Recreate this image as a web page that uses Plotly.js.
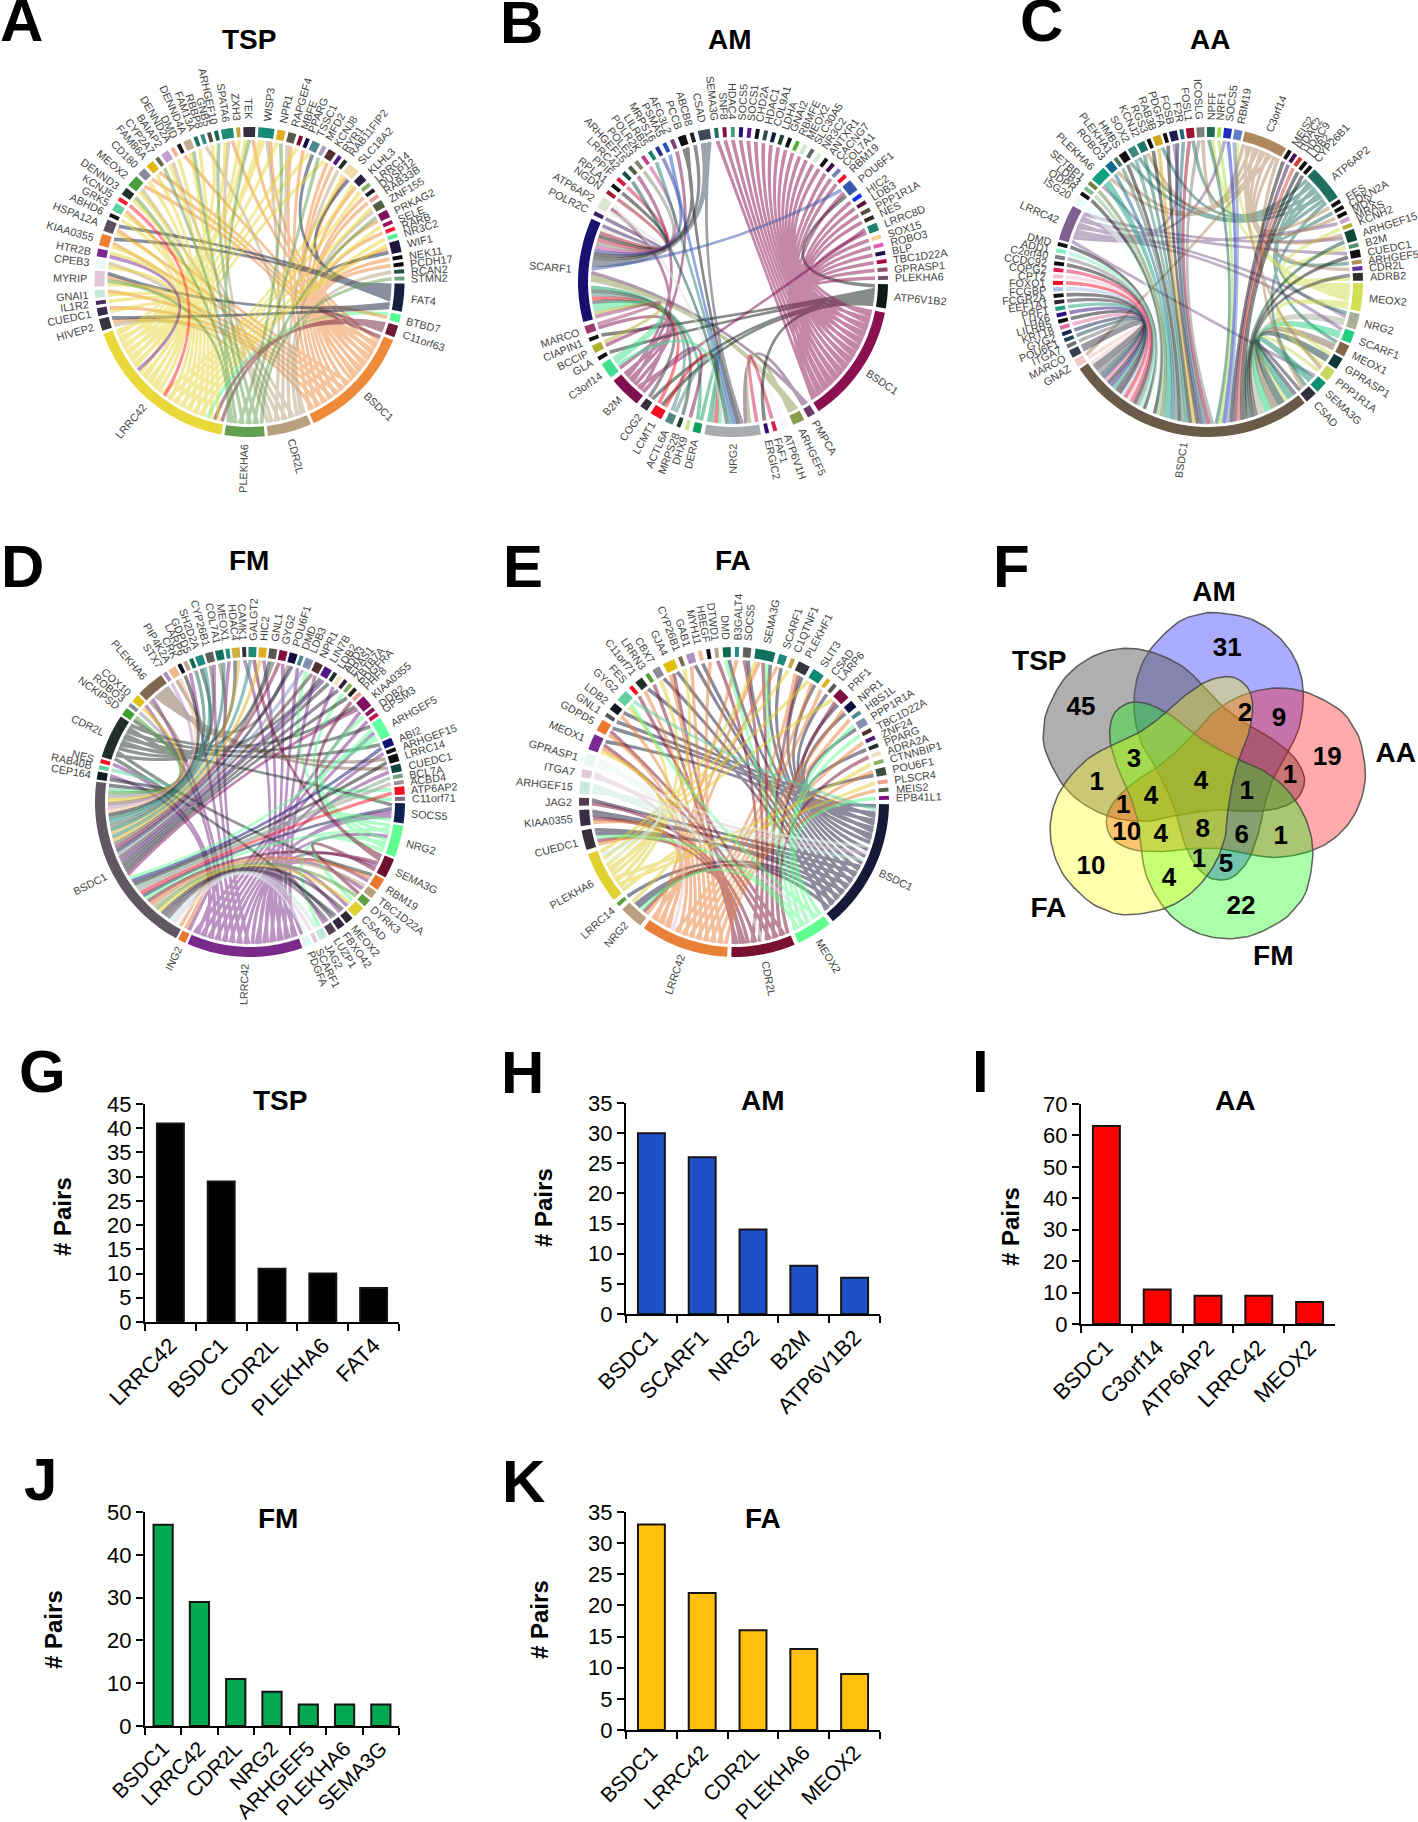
<!DOCTYPE html>
<html><head><meta charset="utf-8">
<script src="https://cdn.plot.ly/plotly-3.0.1.min.js"></script>
<style>html,body{margin:0;padding:0;background:#fff}</style></head>
<body><div id="chart" style="width:1418px;height:1822px"></div>
<script>
// ---------- Chord panels: genes clockwise from east, sector colours, partner codes ----------
// A partner code is one letter per pair. Upper case: ribbon takes the partner hub's colour; lower case: the gene's own colour.
const tspHubs={B:'BSDC1',C:'CDR2L',P:'PLEKHA6',L:'LRRC42',F:'FAT4'};
const tspGenes=['FAT4','BTBD7','C11orf63','BSDC1','CDR2L','PLEKHA6','LRRC42','HIVEP2','CUEDC1','IL1R2','GNAI1','MYRIP','CPEB3','HTR2B','KIAA0355','HSPA12A','ABHD6','GRK5','KCNJ5','DENND3','MEOX2','CD180','FAM86A','CYP2A7','BAIAP2','DENND2A','DMD','DENND4A','FAM13A','RBBP8','GNB5','ARHGEF10','SPATA6','ZXH3','TEK','WISP3','NPR1','RAPGEF4','MBFE','PPARG','TSSC1','MFD2','KCNJ8','RYR1','RAB11FIP2','SLC18A2','KLHL3','LRRC14','DUSP12','RAB33B','ZNF155','PRKAG2','SELE','RARB','NR3C2','WIF1','NEK11','PCDH17','RCAN2','STMN2'];
const tspColors=['#142040','#50ff90','#701a3a','#ee8a3a','#b8a07c','#62a050','#e8d838','#38343e','#3a2f4a','#4a2a58','#c4e8dc','#e2c8d6','#eaf8f4','#7a2a90','#ee8030','#5a5060','#101018','#60d0a0','#ff2030','#203028','#4aa040','#8a8a98','#e0b810','#6a6a50','#c0a0d0','#f0b890','#1a1a20','#c0b090','#207060','#309090','#505048','#106a50','#208a78','#c0a840','#343040','#1a8a78','#e0b020','#585850','#7a1030','#101040','#508890','#a0a0c0','#503030','#501880','#203028','#f0dcb0','#302040','#88b060','#202020','#e8a090','#506040','#801060','#a01060','#ff2040','#50f090','#201838','#0a0a0a','#0a0a0a','#205040','#70a080'];
const tspLinks=['','lB','llb','','','','','CFB','LB','L','BL','LBFP','LC','lL','BLF','FLB','L','BL','l','LP','LCB','LB','LB','P','LC','L','B','LP','L','C','L','P','LBC','L','BLP','LBLC','LP','BC','L','B','LF','P','LB','B','C','LBF','LB','L','B','B','LC','BP','L','B','L','LBF','B','B','C','P'];

const amHubs={B:'BSDC1',S:'SCARF1',N:'NRG2',M:'B2M',A:'ATP6V1B2'};
const amGenes=['ATP6V1B2','BSDC1','PMPCA','ARHGEF5','ATP6V1H','FAF1','ERGIC2','NRG2','DERA','DHX9','MRPS28','ACTL6A','LCMT1','COG2','B2M','C3orf14','GLA','BCCIP','CIAPIN1','MARCO','SCARF1','POLR2C','ATP6AP2','NGDN','RPLA1','PPIF','LRRC42','ARHGEF15','POLE3','POLR2K','LILRB5','MRPS16','PSMA5','AFG3L2','PCCB','ABCB8','CSAD','SEMA3G','SNF8','HDAC4','SOCS5','SOCS1','CHD2A','HDAC1','COL9A1','LDHA','GNAI2','RBMFE','MEOX2','SLC30A5','NR3C2','ANTXR1','CACNG7','COL7A1','RBM19','POU6F1','HIC2','LDB3','PPP1R1A','NES','LRRC8D','SOX15','ROBO3','BLP','TBC1D22A','GPRASP1','PLEKHA6'];
const amColors=['#101a14','#8a1050','#6a3a68','#8a9a50','#f4f6ff','#d02050','#30106a','#a8acb0','#10a060','#c8e890','#204030','#508880','#f01020','#383038','#801050','#40e090','#101010','#b0b030','#101010','#9a3a70','#1a1070','#402060','#dce4d4','#a01830','#101010','#d02040','#105048','#506040','#808870','#c04090','#208070','#303090','#2050c0','#804070','#101010','#202020','#404858','#207060','#801040','#40a080','#201070','#601880','#101020','#305040','#102040','#204030','#101010','#50b030','#d8e0d0','#606868','#dce8d8','#101010','#401050','#7080b0','#f01030','#3858a8','#1030e0','#601040','#585040','#302a20','#208070','#f8d090','#e060b0','#201050','#a01040','#8a5060','#705060'];
const amLinks=['','','sn','ssn','sn','n','A','','sn','M','s','sn','snA','sA','','ssMn','A','sM','A','sM','','s','sMn','s','s','s','n','M','s','s','n','s','n','M','sn','s','nss','B','B','B','B','B','B','B','B','B','B','B','B','B','B','B','B','B','B','BsA','B','B','B','B','BM','B','B','B','B','B','B'];

const aaHubs={B:'BSDC1',C:'C3orf14',T:'ATP6AP2',L:'LRRC42',M:'MEOX2'};
const aaGenes=['MEOX2','NRG2','SCARF1','MEOX1','GPRASP1','PPP1R1A','SEMA3G','CSAD','BSDC1','GNAZ','MARCO','ITGA7','POU6F1','GYG2','KRT18','LILRB5','LHX6','PRF1','EEF1A1','FCGR2A','FCGBP','FOXO1','CPT2','COPG2','CCDC92','C2orf40','ADD1','DMD','LRRC42','ISG20','QDPR','LDB3','SETBP1','PLEKHA6','ROBO3','PLEKHA1','HMBS','SOX2','KCNJ2','RGS3','RAB3B','PDGFA','FOSB','F2R','FOSL1','ICOSLG','NPFF','NRF1','SOCS5','RBM19','C3orf14','MEIS2','HDAC2','HDAC9','LDB2','CYP26B1','ATP6AP2','FES','CDKN2A','MDK','MRAS','KCNH2','ARHGEF15','B2M','CUEDC1','ARHGEF5','CDR2L','ADRB2'];
const aaColors=['#d0e050','#a8b098','#20d080','#806848','#103838','#c8d860','#109070','#303040','#6a5a48','#f0c8c8','#383c48','#707078','#204858','#182a50','#e070a0','#101010','#301080','#20a080','#302030','#101010','#a8c0e8','#f01020','#f0c0d0','#e02050','#101010','#808088','#80f0c0','#101010','#806090','#e8fff8','#101010','#80c090','#708040','#10a080','#106a90','#507868','#101010','#408878','#207868','#101010','#d0a820','#101010','#202050','#206a78','#a01030','#808080','#206a50','#a0e050','#2030c0','#6080c0','#b08860','#101010','#401050','#d04030','#101010','#101010','#207060','#101010','#101010','#101010','#c8a0c8','#b8b030','#104838','#509070','#101010','#b09050','#6030a0','#303028'];
const aaLinks=['','bbTL','bbL','bbT','bbM','bMC','bbL','bTC','','bC','bb','b','b','b','b','b','b','b','b','b','b','b','b','b','b','b','b','b','','bb','b','b','b','bbLC','bC','b','bT','bT','bC','b','bT','b','bL','b','bT','bC','bM','b','bL','bM','','b','b','b','b','b','','C','T','C','L','M','bCL','M','bL','T','C','bM'];

const fmHubs={B:'BSDC1',L:'LRRC42',D:'CDR2L',N:'NRG2',G:'ARHGEF5',P:'PLEKHA6',S:'SEMA3G'};
const fmGenes=['SOCS5','NRG2','SEMA3G','RBM19','TBC1D22A','DYRK3','CSAD','MEOX2','FBXO42','LUZP1','JAG2','SCARF1','PDGFA','LRRC42','ING2','BSDC1','CEP164','RAB40B','NES','CDR2L','NCKIPSD','ROBO3','COX10','PLEKHA6','STX7','PIP4K2A','CRK','LARP6','GDPD5','SH2D2A','CYP26B1','COL7A1','MEOX1','HDAC4','CAMK1','GALGT2','HIC2','GNL1','GYG2','POU6F1','DMD','LDB3','NPR1','LIN7B','LDB2','ADD3','EPAS1','ZBTB7A','PDGFRA','PHF8','KIAA0355','DDB2','GPSM3','ARHGEF5','ABI2','ARHGEF15','LRRC14','CUEDC1','BCL7A','ACBD4','ATP6AP2','C11orf71'];
const fmColors=['#102050','#60ff90','#701030','#e87830','#b8a078','#60a040','#e0d030','#302830','#302840','#504050','#c0e8dc','#e0c8d8','#e0f8f4','#7a2a88','#e87830','#605860','#101820','#60d0a0','#f01020','#203028','#40a030','#8a8a98','#e0c010','#806850','#b090c0','#f0b890','#101018','#b8a890','#106a50','#208a88','#606058','#107060','#208a78','#d0b040','#303040','#208a78','#e0b020','#585850','#801040','#101040','#508890','#8090b0','#503030','#501880','#203028','#f0e0c0','#302040','#88b060','#202020','#e8a090','#801060','#901060','#c01050','#60ffa0','#101070','#101010','#101010','#104840','#70a080','#a09090','#f01020','#807080'];
const fmLinks=['bLDLN','bL','bL','bLD','bL','bS','bLN','bL','bD','bL','bN','b','bL','','bL','','bL','b','L','','bD','b','bL','bL','b','bP','b','L','b','bD','bL','bP','L','bD','L','bS','bL','bD','bL','bP','L','bN','bL','bD','b','L','b','N','b','S','bLD','N','L','bLD','bD','L','bP','LP','b','b','bG','G'];

const faHubs={B:'BSDC1',C:'CDR2L',L:'LRRC42',P:'PLEKHA6',M:'MEOX2'};
const faGenes=['BSDC1','MEOX2','CDR2L','LRRC42','NRG2','LRRC14','PLEKHA6','CUEDC1','KIAA0355','JAG2','ARHGEF15','ITGA7','GPRASP1','MEOX1','GDPD5','GNL1','LDB2','GYG2','FES','C11orf71','LRRN3','CBX7','GJA4','CYP26B1','GAB1','MYH11','HBEGF','DTWD1','DMD','B3GALT4','SOCS5','SEMA3G','SCARF1','C1QTNF1','PLEKHF1','SLIT3','CSAD','LARP6','PRF1','NPR1','HBS1L','PPP1R1A','TBC1D22A','ZNF24','PPARG','ADRA2A','CTNNBIP1','POU6F1','PLSCR4','MEIS2','EPB41L1'];
const faColors=['#181838','#60ff90','#7a1030','#e88038','#b8a080','#60a040','#e0d030','#383038','#382c48','#583850','#c8e8e0','#e0c8d8','#e8f8f0','#7a2a90','#e87830','#585060','#101820','#60d0a0','#f01020','#203028','#50a030','#8a8a98','#e0c010','#806850','#b090c0','#f0b890','#101018','#b8a890','#106a50','#208a88','#606058','#107060','#208a78','#c0a840','#383440','#108a78','#e0b020','#585850','#801040','#101040','#508890','#8090b0','#503030','#501880','#203028','#f0e0c0','#88b060','#405040','#e8a090','#506040','#801080'];
const faLinks=['','','','','BCBLPM','B','','BCBLM','BCBL','BC','bpm','bl','bpc','BCLP','BLC','B','BL','bPM','C','BL','C','BP','BLC','P','BL','B','L','C','BM','L','BC','BLPMC','BL','P','BLC','BLP','L','B','BPC','BL','L','BM','M','L','B','C','P','BL','P','L','M'];

const chordPanels=[
 {genes:tspGenes,colors:tspColors,links:tspLinks,hubs:tspHubs,cx:249.5,cy:282},
 {genes:amGenes,colors:amColors,links:amLinks,hubs:amHubs,cx:733,cy:282},
 {genes:aaGenes,colors:aaColors,links:aaLinks,hubs:aaHubs,cx:1208,cy:282},
 {genes:fmGenes,colors:fmColors,links:fmLinks,hubs:fmHubs,cx:250,cy:802},
 {genes:faGenes,colors:faColors,links:faLinks,hubs:faHubs,cx:734,cy:802}];

// ---------- Venn ----------
const vennSetNames=['AM','TSP','AA','FM','FA'];
const vennTurns=[0,4,1,2,3];
const vennFills=['rgba(0,0,255,.33)','rgba(95,95,95,.5)','rgba(255,0,0,.33)','rgba(0,255,0,.33)','rgba(255,255,0,.33)'];
const vennLobe=[[715,218],[820,240],[905,300],[955,380],[970,470],[955,570],[915,650],[880,715],[855,790],[835,880],[805,960],[760,1010],[715,1020],[675,1005],[640,965],[610,900],[590,825],[565,760],[525,680],[485,610],[463,520],[470,420],[510,330],[590,250],[650,225]];
const vennCounts=[45,31,19,22,10,2,9,3,1,4,1,1,1,4,10,4,8,6,1,1,5,4];
const vennCountX=[303,742,1042,783,333,795,897,462,350,663,800,930,430,513,440,542,668,785,902,657,738,567];
const vennCountY=[504,329,654,1103,983,523,539,661,731,726,756,709,798,771,881,886,871,889,891,961,976,1018];
const vennLabelX=[702,178,1247,880,205];
const vennLabelY=[161,368,646,1253,1111];

// ---------- Bar panels ----------
const tspCats=['LRRC42','BSDC1','CDR2L','PLEKHA6','FAT4'], tspPairs=[41,29,11,10,7];
const amCats=['BSDC1','SCARF1','NRG2','B2M','ATP6V1B2'], amPairs=[30,26,14,8,6];
const aaCats=['BSDC1','C3orf14','ATP6AP2','LRRC42','MEOX2'], aaPairs=[63,11,9,9,7];
const fmCats=['BSDC1','LRRC42','CDR2L','NRG2','ARHGEF5','PLEKHA6','SEMA3G'], fmPairs=[47,29,11,8,5,5,5];
const faCats=['BSDC1','LRRC42','CDR2L','PLEKHA6','MEOX2'], faPairs=[33,22,16,13,9];
const barPanels=[
 {t:'TSP',c:tspCats,v:tspPairs,col:'#000000',max:45,dt:5,x0:145,x1:399,y0:1322,y1:1104,tx:280,ty:1100,px:62,py:1217,fs:22},
 {t:'AM',c:amCats,v:amPairs,col:'#1e50c8',max:35,dt:5,x0:626,x1:880,y0:1314,y1:1103,tx:763,ty:1100,px:543,py:1208,fs:22},
 {t:'AA',c:aaCats,v:aaPairs,col:'#ff0000',max:70,dt:10,x0:1081,x1:1335,y0:1324,y1:1104,tx:1235,ty:1100,px:1010,py:1227,fs:22},
 {t:'FM',c:fmCats,v:fmPairs,col:'#00a850',max:50,dt:10,x0:145,x1:399,y0:1726,y1:1512,tx:278,ty:1518,px:53,py:1629,fs:21},
 {t:'FA',c:faCats,v:faPairs,col:'#ffc010',max:35,dt:5,x0:626,x1:880,y0:1730,y1:1512,tx:763,ty:1518,px:539,py:1620,fs:21}];

const panelLetters=[['A',21,21],['B',521,22],['C',1041,21],['D',22,566],['E',523,566],['F',1011,566],['G',42,1071],['H',522,1072],['I',980,1071],['J',40,1479],['K',523,1481]];
const chordTitles=[['TSP',249,39],['AM',730,39],['AA',1210,40],['FM',249,560],['FA',733,560]];

// ---------- Build ----------
const W=1418,H=1822,FONT='"Liberation Sans",Arial,sans-serif';
const UNIT=1.5,R=155,HALF=210,rOut=1,rIn=145/155,rRib=142/155,rLab=162/155,LABEL=10.8;
const layout={width:W,height:H,margin:{l:0,r:0,t:0,b:0},paper_bgcolor:'#fff',plot_bgcolor:'rgba(0,0,0,0)',showlegend:false,annotations:[],font:{family:FONT,color:'#000'}};
const traces=[];
let axisN=0;
function addAxes(xa,xb,ya,yb,xo,yo){
  axisN++;const s=axisN===1?'':axisN;
  layout['xaxis'+s]=Object.assign({domain:[xa/W,xb/W],anchor:'y'+s,fixedrange:true},xo);
  layout['yaxis'+s]=Object.assign({domain:[1-yb/H,1-ya/H],anchor:'x'+s,fixedrange:true},yo);
  return {x:'x'+s,y:'y'+s};
}
function paperText(t,x,y,size,bold,extra){
  layout.annotations.push(Object.assign({text:bold?'<b>'+t+'</b>':t,xref:'paper',yref:'paper',x:x/W,y:1-y/H,xanchor:'center',yanchor:'middle',showarrow:false,font:{size:size,family:FONT,color:'#000'}},extra||{}));
}
const rad=d=>d*Math.PI/180;
const pt=(r,d)=>[r*Math.cos(rad(d)),-r*Math.sin(rad(d))];
const ctx=document.createElement('canvas').getContext('2d');ctx.font=LABEL+'px "Liberation Sans"';

function drawChord(p){
  const ax=addAxes(p.cx-HALF,p.cx+HALF,p.cy-HALF,p.cy+HALF,{visible:false,range:[-HALF/R,HALF/R]},{visible:false,range:[-HALF/R,HALF/R]});
  const n=p.genes.length,idx={};p.genes.forEach((g,i)=>idx[g]=i);
  const links=[],count=new Array(n).fill(0);
  p.links.forEach((s,i)=>{for(const ch of s){
    const up=ch.toUpperCase(),h=idx[p.hubs[up]];
    if(h===undefined||h===i)continue;
    links.push({a:i,b:h,color:ch===up?p.colors[h]:p.colors[i]});count[i]++;count[h]++;
  }});
  const total=count.reduce((a,b)=>a+b,0);
  const gap=Math.max(0.3,(360-UNIT*total)/n),unit=(360-gap*n)/total;
  const start=[],end=[];let ang=gap/2;
  for(let i=0;i<n;i++){start[i]=ang;end[i]=ang+count[i]*unit;ang=end[i]+gap;}
  const mid=i=>(start[i]+end[i])/2;
  const ends=Array.from({length:n},()=>[]);
  links.forEach((l,k)=>{ends[l.a].push({k,s:'a',o:l.b});ends[l.b].push({k,s:'b',o:l.a});});
  ends.forEach((e,i)=>{
    e.sort((u,v)=>((mid(v.o)-mid(i)+360)%360)-((mid(u.o)-mid(i)+360)%360));
    // self-coloured hubs weave the two halves of their fan, as the reference's unsorted link table does
    const own=e.filter(x=>links[x.k].color===p.colors[i]).length;
    let seq=e;
    if(e.length>=8&&own>e.length/2){
      const h=Math.ceil(e.length/2);seq=[];
      for(let j=0;j<h;j++){seq.push(e[j]);if(e[h+j])seq.push(e[h+j]);}
    }
    seq.forEach((x,j)=>{links[x.k][x.s+'m']=start[i]+(j+.5)*unit;});
  });
  const halfW=rad(unit)*rRib/2;
  const byColor={};
  links.forEach(l=>{
    const o=byColor[l.color]||(byColor[l.color]={x:[],y:[]});
    const P=pt(rRib,l.am),Q=pt(rRib,l.bm);
    let d=Math.abs(l.bm-l.am)%360;if(d>180)d=360-d;
    let bis=(l.am+l.bm)/2;if(Math.abs(l.bm-l.am)>180)bis+=180;
    const c=pt(0.05+0.2*d/180,bis);
    const L=[],Rt=[];
    for(let k=0;k<=24;k++){
      const t=k/24,u=1-t;
      const bx=u*u*P[0]+2*u*t*c[0]+t*t*Q[0],by=u*u*P[1]+2*u*t*c[1]+t*t*Q[1];
      let tx=2*u*(c[0]-P[0])+2*t*(Q[0]-c[0]),ty=2*u*(c[1]-P[1])+2*t*(Q[1]-c[1]);
      const len=Math.hypot(tx,ty)||1;tx/=len;ty/=len;
      const w=halfW*(1-0.3*4*t*u);
      L.push([bx-ty*w,by+tx*w]);Rt.push([bx+ty*w,by-tx*w]);
    }
    L.forEach(q=>{o.x.push(q[0]);o.y.push(q[1]);});
    Rt.reverse().forEach(q=>{o.x.push(q[0]);o.y.push(q[1]);});
    o.x.push(L[0][0],null);o.y.push(L[0][1],null);
  });
  Object.keys(byColor).forEach(c=>{
    const v=parseInt(c.slice(1),16),rgb=[v>>16,(v>>8)&255,v&255];
    traces.push({type:'scatter',mode:'none',fill:'toself',fillcolor:`rgba(${rgb.join(',')},.5)`,x:byColor[c].x,y:byColor[c].y,xaxis:ax.x,yaxis:ax.y,hoverinfo:'skip'});
  });
  const secs={};
  p.genes.forEach((g,i)=>{
    if(!count[i])return;
    const o=secs[p.colors[i]]||(secs[p.colors[i]]={x:[],y:[]});
    const steps=Math.max(2,Math.ceil((end[i]-start[i])/1.5));
    for(let s=0;s<=steps;s++){const q=pt(rOut,start[i]+(end[i]-start[i])*s/steps);o.x.push(q[0]);o.y.push(q[1]);}
    for(let s=steps;s>=0;s--){const q=pt(rIn,start[i]+(end[i]-start[i])*s/steps);o.x.push(q[0]);o.y.push(q[1]);}
    o.x.push(null);o.y.push(null);
    const m=mid(i),w=ctx.measureText(g).width,c=pt(rLab+(w/2)/R,m);
    let ta=m>90&&m<270?m-180:m;if(ta>180)ta-=360;
    layout.annotations.push({text:g,xref:ax.x,yref:ax.y,x:c[0],y:c[1],xanchor:'center',yanchor:'middle',textangle:ta,showarrow:false,font:{size:LABEL,family:FONT,color:'#444'},borderpad:0});
  });
  Object.keys(secs).forEach(c=>traces.push({type:'scatter',mode:'none',fill:'toself',fillcolor:c,x:secs[c].x,y:secs[c].y,xaxis:ax.x,yaxis:ax.y,hoverinfo:'skip'}));
}
chordPanels.forEach(drawChord);
chordTitles.forEach(t=>paperText(t[0],t[1],t[2],28,true));

// Venn: one lobe outline turned by 72 degree steps around the pentagon centre; axis units are 1/3 px
(function(){
  const ax=addAxes(980,1418,540,990,{visible:false,range:[0,1314]},{visible:false,range:[1350,0]});
  const cx=656,cy=712,N=vennLobe.length;
  function smooth(pts){
    const X=[],Y=[];
    for(let i=0;i<N;i++){
      const a=pts[(i+N-1)%N],b=pts[i],c=pts[(i+1)%N],d=pts[(i+2)%N];
      for(let t=0;t<1;t+=1/8){const t2=t*t,t3=t2*t;
        X.push(.5*(2*b[0]+(c[0]-a[0])*t+(2*a[0]-5*b[0]+4*c[0]-d[0])*t2+(3*b[0]-a[0]-3*c[0]+d[0])*t3));
        Y.push(.5*(2*b[1]+(c[1]-a[1])*t+(2*a[1]-5*b[1]+4*c[1]-d[1])*t2+(3*b[1]-a[1]-3*c[1]+d[1])*t3));}
    }
    X.push(X[0]);Y.push(Y[0]);return [X,Y];
  }
  vennSetNames.forEach((name,i)=>{
    const th=rad(72*vennTurns[i]),co=Math.cos(th),si=Math.sin(th);
    const pts=vennLobe.map(q=>{const dx=q[0]-cx,dy=q[1]-cy;return [cx+dx*co-dy*si,cy+dx*si+dy*co];});
    const s=smooth(pts);
    traces.push({type:'scatter',mode:'lines',fill:'toself',fillcolor:vennFills[i],line:{color:'rgba(70,70,70,.85)',width:1.5},x:s[0],y:s[1],xaxis:ax.x,yaxis:ax.y,hoverinfo:'skip'});
  });
  traces.push({type:'scatter',mode:'text',x:vennCountX,y:vennCountY,text:vennCounts.map(c=>'<b>'+c+'</b>'),textposition:'middle center',textfont:{size:26,family:FONT,color:'#000'},xaxis:ax.x,yaxis:ax.y,hoverinfo:'skip'});
  traces.push({type:'scatter',mode:'text',x:vennLabelX,y:vennLabelY,text:vennSetNames.map(c=>'<b>'+c+'</b>'),textposition:'middle center',textfont:{size:28,family:FONT,color:'#000'},xaxis:ax.x,yaxis:ax.y,hoverinfo:'skip'});
})();

barPanels.forEach(b=>{
  const ax=addAxes(b.x0,b.x1,b.y1,b.y0,
    {type:'category',range:[-0.5,b.c.length-0.5],tickson:'boundaries',ticks:'outside',ticklen:7,tickwidth:2,tickcolor:'#000',showline:true,linecolor:'#000',linewidth:2,showgrid:false,zeroline:false,tickangle:-45,tickfont:{size:b.fs,family:FONT,color:'#000'},automargin:false},
    {range:[0,b.max],dtick:b.dt,ticks:'outside',ticklen:7,tickwidth:2,tickcolor:'#000',showline:true,linecolor:'#000',linewidth:2,showgrid:false,zeroline:false,tickfont:{size:22,family:FONT,color:'#000'},automargin:false});
  traces.push({type:'bar',x:b.c,y:b.v,xaxis:ax.x,yaxis:ax.y,marker:{color:b.col,line:{color:'#151515',width:2}},hoverinfo:'skip'});
  paperText(b.t,b.tx,b.ty,28,true);
  paperText('# Pairs',b.px,b.py,24,true,{textangle:-90});
});
layout.bargap=0.47;
panelLetters.forEach(l=>paperText(l[0],l[1],l[2],60,true));
Plotly.newPlot('chart',traces,layout,{staticPlot:true,displayModeBar:false});
</script></body></html>
